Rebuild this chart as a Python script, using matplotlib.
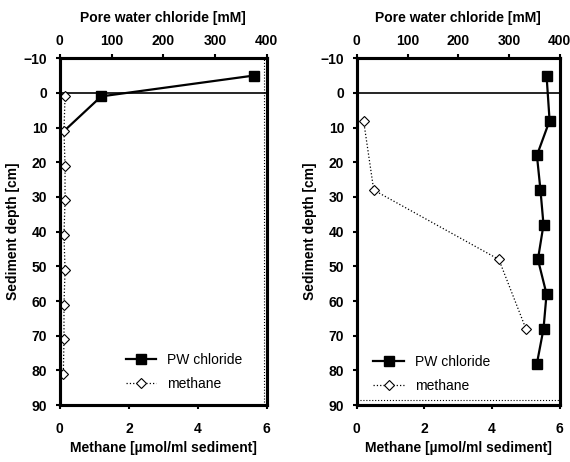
import matplotlib
matplotlib.use("Agg")
import matplotlib.pyplot as plt

plt.rcParams['font.family'] = ['Liberation Sans', 'DejaVu Sans']
plt.rcParams['font.weight'] = 'bold'

# left core
left_cl_depth = [-5, 1, 11]
left_cl = [375, 80, 8]
left_ch4_depth = [1, 11, 21, 31, 41, 51, 61, 71, 81]
left_ch4 = [0.15, 0.12, 0.15, 0.15, 0.12, 0.15, 0.12, 0.12, 0.1]

# right core
right_cl_depth = [-5, 8, 18, 28, 38, 48, 58, 68, 78]
right_cl = [374, 380, 355, 362, 368, 357, 374, 368, 355]
right_ch4_depth = [8, 28, 48, 68]
right_ch4 = [0.2, 0.5, 4.2, 5.0]

depth_ticks = [-10, 0, 10, 20, 30, 40, 50, 60, 70, 80, 90]
ch4_ticks = [0, 2, 4, 6]
cl_ticks = [0, 100, 200, 300, 400]

fig = plt.figure(figsize=(5.7, 4.62), dpi=100)


def panel(rect, cl_d, cl, ch4_d, ch4, legend_anchor, dotted, mark=None):
    ax = fig.add_axes(rect)
    top = ax.twiny()
    ax.set_zorder(2)
    ax.patch.set_visible(False)
    ax.set_xlim(0, 6)
    ax.set_ylim(90, -10)
    ax.set_xticks(ch4_ticks)
    ax.set_yticks(depth_ticks)
    ax.axhline(0, color='black', lw=1.2, zorder=1)
    ln2, = ax.plot(ch4, ch4_d, color='black', lw=0.9, ls=':', marker='D',
                   ms=5, mfc='white', mec='black', mew=0.8, label='methane')
    ax.set_xlabel('Methane [µmol/ml sediment]', fontsize=10, fontweight='bold',
                  labelpad=4)
    ax.set_ylabel('Sediment depth [cm]', fontsize=10, fontweight='bold',
                  labelpad=3)
    top.set_xlim(0, 400)
    top.set_xticks(cl_ticks)
    ln1, = top.plot(cl, cl_d, color='black', lw=1.6, marker='s', ms=7,
                    mfc='black', mec='black', label='PW chloride',
                    markevery=mark)
    top.set_xlabel('Pore water chloride [mM]', fontsize=10, fontweight='bold',
                   labelpad=9)
    if dotted == 'v':
        top.axvline(395, color='black', lw=0.8, ls=':')
    else:
        ax.axhline(88.5, color='black', lw=0.8, ls=':')
    for a in (ax, top):
        for s in a.spines.values():
            s.set_linewidth(2.2)
        a.tick_params(labelsize=10, width=1.5, length=3, pad=2)
    ax.tick_params(axis='x', pad=9)
    ax.tick_params(axis='y', pad=6)
    top.tick_params(axis='x', pad=4)
    ax.legend([ln1, ln2], ['PW chloride', 'methane'], loc='center',
              bbox_to_anchor=legend_anchor, frameon=False, handlelength=2.2,
              prop={'weight': 'normal', 'size': 10}, labelspacing=0.7)
    return ax


panel([0.105, 0.123, 0.363, 0.751], left_cl_depth, left_cl, left_ch4_depth,
      left_ch4, (0.6, 0.095), 'v', mark=[0, 1])
panel([0.626, 0.123, 0.356, 0.751], right_cl_depth, right_cl, right_ch4_depth,
      right_ch4, (0.37, 0.09), 'h')

fig.savefig('out.png', dpi=100)
